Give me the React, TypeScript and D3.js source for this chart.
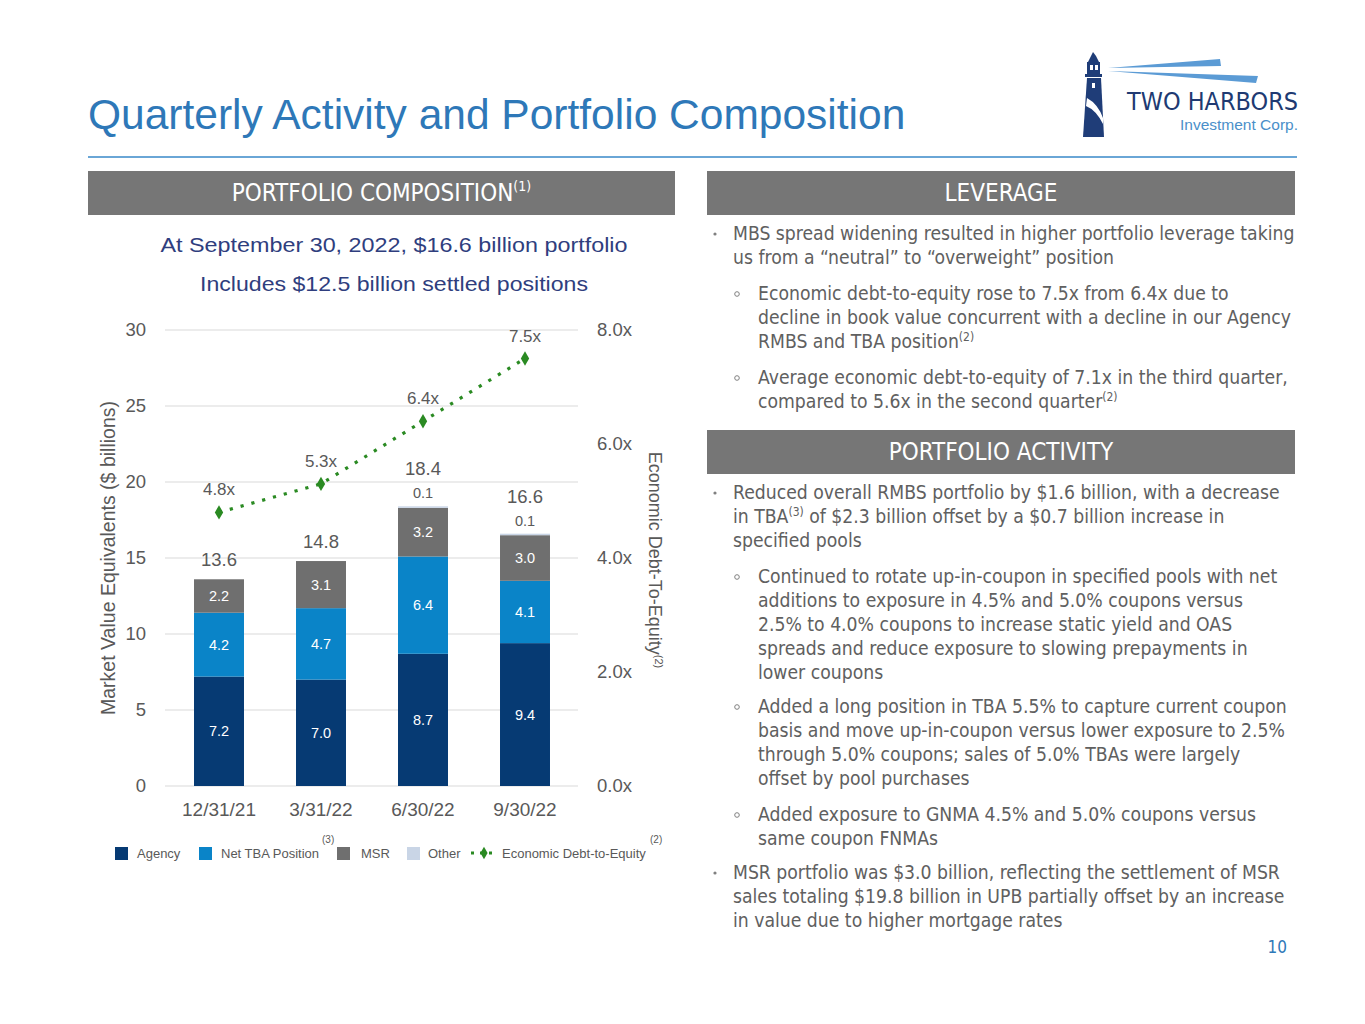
import * as d3 from "d3";

const quarters = ["12/31/21", "3/31/22", "6/30/22", "9/30/22"];
const agency = [7.2, 7.0, 8.7, 9.4];
const netTba = [4.2, 4.7, 6.4, 4.1];
const msr = [2.2, 3.1, 3.2, 3.0];
const other = [0, 0, 0.1, 0.1];
const totals = [13.6, 14.8, 18.4, 16.6];
const debtToEquity = [4.8, 5.3, 6.4, 7.5];
const leftTicks = [0, 5, 10, 15, 20, 25, 30];
const rightTicks = [0, 2, 4, 6, 8];

const seriesKeys = ["agency", "netTba", "msr", "other"] as const;
const seriesColors: Record<string, string> = {
  agency: "#063a73",
  netTba: "#0a84c8",
  msr: "#6f6f6f",
  other: "#c9d5e6",
};

const W = 1365;
const H = 1024;
const sans = "Liberation Sans, Arial, Helvetica, sans-serif";
const narrow = "'Liberation Sans Narrow', 'Arial Narrow', 'DejaVu Sans Condensed', sans-serif";
const gray = "#595959";
const bodyGray = "#606060";

// one line of a bullet list: level 1 = main bullet, 2 = sub bullet
type Part = string | { sup: string };
type Line = { level: 1 | 2; marker?: boolean; y: number; parts: Part[] };

const leverageLines: Line[] = [
  { level: 1, marker: true, y: 240, parts: ["MBS spread widening resulted in higher portfolio leverage taking"] },
  { level: 1, y: 264, parts: ["us from a \u201cneutral\u201d to \u201coverweight\u201d position"] },
  { level: 2, marker: true, y: 300, parts: ["Economic debt-to-equity rose to 7.5x from 6.4x due to"] },
  { level: 2, y: 324, parts: ["decline in book value concurrent with a decline in our Agency"] },
  { level: 2, y: 348, parts: ["RMBS and TBA position", { sup: "(2)" }] },
  { level: 2, marker: true, y: 384, parts: ["Average economic debt-to-equity of 7.1x in the third quarter,"] },
  { level: 2, y: 408, parts: ["compared to 5.6x in the second quarter", { sup: "(2)" }] },
];

const activityLines: Line[] = [
  { level: 1, marker: true, y: 499, parts: ["Reduced overall RMBS portfolio by $1.6 billion, with a decrease"] },
  { level: 1, y: 523, parts: ["in TBA", { sup: "(3)" }, " of $2.3 billion offset by a $0.7 billion increase in"] },
  { level: 1, y: 547, parts: ["specified pools"] },
  { level: 2, marker: true, y: 583, parts: ["Continued to rotate up-in-coupon in specified pools with net"] },
  { level: 2, y: 607, parts: ["additions to exposure in 4.5% and 5.0% coupons versus"] },
  { level: 2, y: 631, parts: ["2.5% to 4.0% coupons to increase static yield and OAS"] },
  { level: 2, y: 655, parts: ["spreads and reduce exposure to slowing prepayments in"] },
  { level: 2, y: 679, parts: ["lower coupons"] },
  { level: 2, marker: true, y: 713, parts: ["Added a long position in TBA 5.5% to capture current coupon"] },
  { level: 2, y: 737, parts: ["basis and move up-in-coupon versus lower exposure to 2.5%"] },
  { level: 2, y: 761, parts: ["through 5.0% coupons; sales of 5.0% TBAs were largely"] },
  { level: 2, y: 785, parts: ["offset by pool purchases"] },
  { level: 2, marker: true, y: 821, parts: ["Added exposure to GNMA 4.5% and 5.0% coupons versus"] },
  { level: 2, y: 845, parts: ["same coupon FNMAs"] },
  { level: 1, marker: true, y: 879, parts: ["MSR portfolio was $3.0 billion, reflecting the settlement of MSR"] },
  { level: 1, y: 903, parts: ["sales totaling $19.8 billion in UPB partially offset by an increase"] },
  { level: 1, y: 927, parts: ["in value due to higher mortgage rates"] },
];

const BulletLines = ({ lines }: { lines: Line[] }) => (
  <g fontFamily={narrow} fontSize={19.2} fill={bodyGray}>
    {lines.map((l, i) => {
      const tx = l.level === 1 ? 733 : 758;
      const mx = l.level === 1 ? 715 : 737;
      return (
        <g key={i}>
          {l.marker &&
            (l.level === 1 ? (
              <circle cx={mx} cy={l.y - 6} r={1.6} fill="#808080" />
            ) : (
              <circle cx={mx} cy={l.y - 6} r={2.3} fill="none" stroke="#808080" strokeWidth={1} />
            ))}
          <text x={tx} y={l.y}>
            {l.parts.map((p, j) =>
              typeof p === "string" ? (
                <tspan key={j} dy={j > 0 && typeof l.parts[j - 1] !== "string" ? 7 : 0}>
                  {p}
                </tspan>
              ) : (
                <tspan key={j} dy={-7} fontSize={12}>
                  {p.sup}
                </tspan>
              ),
            )}
          </text>
        </g>
      );
    })}
  </g>
);

const Header = ({ x, y, w, label, sup }: { x: number; y: number; w: number; label: string; sup?: string }) => (
  <g>
    <rect x={x} y={y} width={w} height={44} fill="#767676" />
    <text x={x + w / 2} y={y + 30} textAnchor="middle" fill="#fff" fontFamily={narrow} fontSize={24}>
      {label}
      {sup && (
        <tspan dy={-10} fontSize={14}>
          {sup}
        </tspan>
      )}
    </text>
  </g>
);

const Logo = () => (
  <g>
    {/* light beams */}
    <path d="M1108,68 L1220,59 L1221,66 Z" fill="#5b9bd5" />
    <path d="M1108,71 L1258,76 L1256,83 Z" fill="#5b9bd5" />
    {/* lighthouse */}
    <path d="M1093,52 L1096,56 L1099,62 L1088,62 L1091,56 Z" fill="#1f3d78" />
    <rect x={1087} y={62} width={13} height={12} fill="#1f3d78" />
    <rect x={1090} y={65} width={3} height={5} fill="#fff" />
    <rect x={1095} y={65} width={3} height={5} fill="#fff" />
    <rect x={1085} y={74} width={17} height={3} fill="#1f3d78" />
    <path d="M1087,78 L1101,78 L1104,137 L1083,137 Z" fill="#1f3d78" />
    <path d="M1087,98 Q1098,104 1103,118 L1103,124 Q1096,110 1086,106 Z" fill="#fff" />
    <rect x={1092} y={83} width={3} height={5} fill="#fff" />
    <text x={1127} y={110} fontFamily="'DejaVu Sans', sans-serif" fontSize={24} fill="#203a72" textLength={171} lengthAdjust="spacingAndGlyphs">
      TWO HARBORS
    </text>
    <text x={1298} y={130} textAnchor="end" fontFamily={sans} fontSize={15.5} fill="#4a8fc9">
      Investment Corp.
    </text>
  </g>
);

const Chart = () => {
  const x = d3.scaleBand<string>().domain(quarters).range([168, 576]).paddingInner(0.51).paddingOuter(0.255);
  const y = d3.scaleLinear().domain([0, 30]).range([786, 330]);
  const yR = d3.scaleLinear().domain([0, 8]).range([786, 330]);

  const rows = quarters.map((q, i) => ({
    q,
    agency: agency[i],
    netTba: netTba[i],
    msr: msr[i],
    other: other[i],
  }));
  const stacked = d3.stack<(typeof rows)[number]>().keys(seriesKeys as unknown as string[])(rows);

  const lineGen = d3
    .line<number>()
    .x((_, i) => (x(quarters[i]) ?? 0) + x.bandwidth() / 2)
    .y((d) => yR(d));
  const diamond = d3.symbol().type(d3.symbolDiamond).size(60)() ?? "";

  return (
    <g>
      {/* grid */}
      {leftTicks.map((t) => (
        <line key={t} x1={165} x2={578} y1={y(t)} y2={y(t)} stroke="#d9d9d9" strokeWidth={1} />
      ))}
      {/* left ticks */}
      <g fontFamily={sans} fontSize={18.5} fill={gray} textAnchor="end">
        {leftTicks.map((t) => (
          <text key={t} x={146} y={y(t) + 6}>
            {t}
          </text>
        ))}
      </g>
      {/* right ticks */}
      <g fontFamily={sans} fontSize={18.5} fill={gray} textAnchor="start">
        {rightTicks.map((t) => (
          <text key={t} x={597} y={yR(t) + 6}>
            {t.toFixed(1)}x
          </text>
        ))}
      </g>
      {/* x labels */}
      <g fontFamily={sans} fontSize={19} fill={gray} textAnchor="middle">
        {quarters.map((q) => (
          <text key={q} x={(x(q) ?? 0) + x.bandwidth() / 2} y={816}>
            {q}
          </text>
        ))}
      </g>
      {/* axis titles */}
      <text transform="translate(115,558) rotate(-90)" textAnchor="middle" fontFamily={sans} fontSize={19.5} fill={gray}>
        Market Value Equivalents ($ billions)
      </text>
      <text transform="translate(649,560) rotate(90)" textAnchor="middle" fontFamily={sans} fontSize={18} fill={gray}>
        Economic Debt-To-Equity
        <tspan dy={-6} fontSize={11}>
          (2)
        </tspan>
      </text>
      {/* bars */}
      {stacked.map((s) => (
        <g key={s.key} fill={seriesColors[s.key]}>
          {s.map((d, i) =>
            d[1] - d[0] > 0 ? (
              <rect
                key={i}
                x={x(quarters[i])}
                y={y(d[1])}
                width={x.bandwidth()}
                height={y(d[0]) - y(d[1])}
              />
            ) : null,
          )}
        </g>
      ))}
      {/* segment labels */}
      <g fontFamily={sans} fontSize={14.5} fill="#fff" textAnchor="middle">
        {stacked
          .filter((s) => s.key !== "other")
          .map((s) =>
            s.map((d, i) => (
              <text key={s.key + i} x={(x(quarters[i]) ?? 0) + x.bandwidth() / 2} y={y((d[0] + d[1]) / 2) + 5}>
                {(d[1] - d[0]).toFixed(1)}
              </text>
            )),
          )}
      </g>
      {/* other labels and totals */}
      <g fontFamily={sans} textAnchor="middle" fill={gray}>
        {quarters.map((q, i) => {
          const cx = (x(q) ?? 0) + x.bandwidth() / 2;
          const top = y(totals[i]);
          return (
            <g key={q}>
              {other[i] > 0 && (
                <text x={cx} y={top - 8} fontSize={14.5}>
                  {other[i].toFixed(1)}
                </text>
              )}
              <text x={cx} y={top - (other[i] > 0 ? 31 : 13)} fontSize={18.5}>
                {totals[i].toFixed(1)}
              </text>
            </g>
          );
        })}
      </g>
      {/* debt-to-equity line */}
      <path
        d={lineGen(debtToEquity) ?? ""}
        fill="none"
        stroke="#2a8a22"
        strokeWidth={3.2}
        strokeDasharray="3.2 8"
      />
      {debtToEquity.map((v, i) => {
        const cx = (x(quarters[i]) ?? 0) + x.bandwidth() / 2;
        return (
          <g key={i}>
            <path d={diamond} transform={`translate(${cx},${yR(v)})`} fill="#2a8a22" />
            <text x={cx} y={yR(v) - 17} textAnchor="middle" fontFamily={sans} fontSize={17} fill={gray}>
              {v.toFixed(1)}x
            </text>
          </g>
        );
      })}
      {/* legend */}
      <g fontFamily={sans} fontSize={13} fill={gray}>
        <rect x={115} y={847} width={13} height={13} fill={seriesColors.agency} />
        <text x={137} y={858}>Agency</text>
        <rect x={199} y={847} width={13} height={13} fill={seriesColors.netTba} />
        <text x={221} y={858}>Net TBA Position</text>
        <text x={322} y={843} fontSize={10}>(3)</text>
        <rect x={337} y={847} width={13} height={13} fill={seriesColors.msr} />
        <text x={361} y={858}>MSR</text>
        <rect x={407} y={847} width={13} height={13} fill={seriesColors.other} />
        <text x={428} y={858}>Other</text>
        <line x1={471} x2={492} y1={853} y2={853} stroke="#2a8a22" strokeWidth={3} strokeDasharray="3 6" />
        <path d={d3.symbol().type(d3.symbolDiamond).size(45)() ?? ""} transform="translate(484,853)" fill="#2a8a22" />
        <text x={502} y={858}>Economic Debt-to-Equity</text>
        <text x={650} y={843} fontSize={10}>(2)</text>
      </g>
    </g>
  );
};

export default function App() {
  return (
    <svg
      width={W}
      height={H}
      viewBox={`0 0 ${W} ${H}`}
      style={{ position: "absolute", left: 0, top: 0, background: "#fff" }}
    >
      <rect width={W} height={H} fill="#fff" />
      <text x={88} y={129} fontFamily={sans} fontSize={42.5} fill="#2e78b8">
        Quarterly Activity and Portfolio Composition
      </text>
      <line x1={88} x2={1297} y1={157} y2={157} stroke="#6aa6d6" strokeWidth={2} />
      <Logo />
      <Header x={88} y={171} w={587} label="PORTFOLIO COMPOSITION" sup="(1)" />
      <Header x={707} y={171} w={588} label="LEVERAGE" />
      <Header x={707} y={430} w={588} label="PORTFOLIO ACTIVITY" />
      <g fontFamily={sans} fontSize={21} fill="#2f3e7e" textAnchor="middle">
        <text x={394} y={252} textLength={467} lengthAdjust="spacingAndGlyphs">
          At September 30, 2022, $16.6 billion portfolio
        </text>
        <text x={394} y={291} textLength={388} lengthAdjust="spacingAndGlyphs">
          Includes $12.5 billion settled positions
        </text>
      </g>
      <Chart />
      <BulletLines lines={leverageLines} />
      <BulletLines lines={activityLines} />
      <text x={1287} y={953} textAnchor="end" fontFamily={narrow} fontSize={17} fill="#2e78b8">
        10
      </text>
    </svg>
  );
}
